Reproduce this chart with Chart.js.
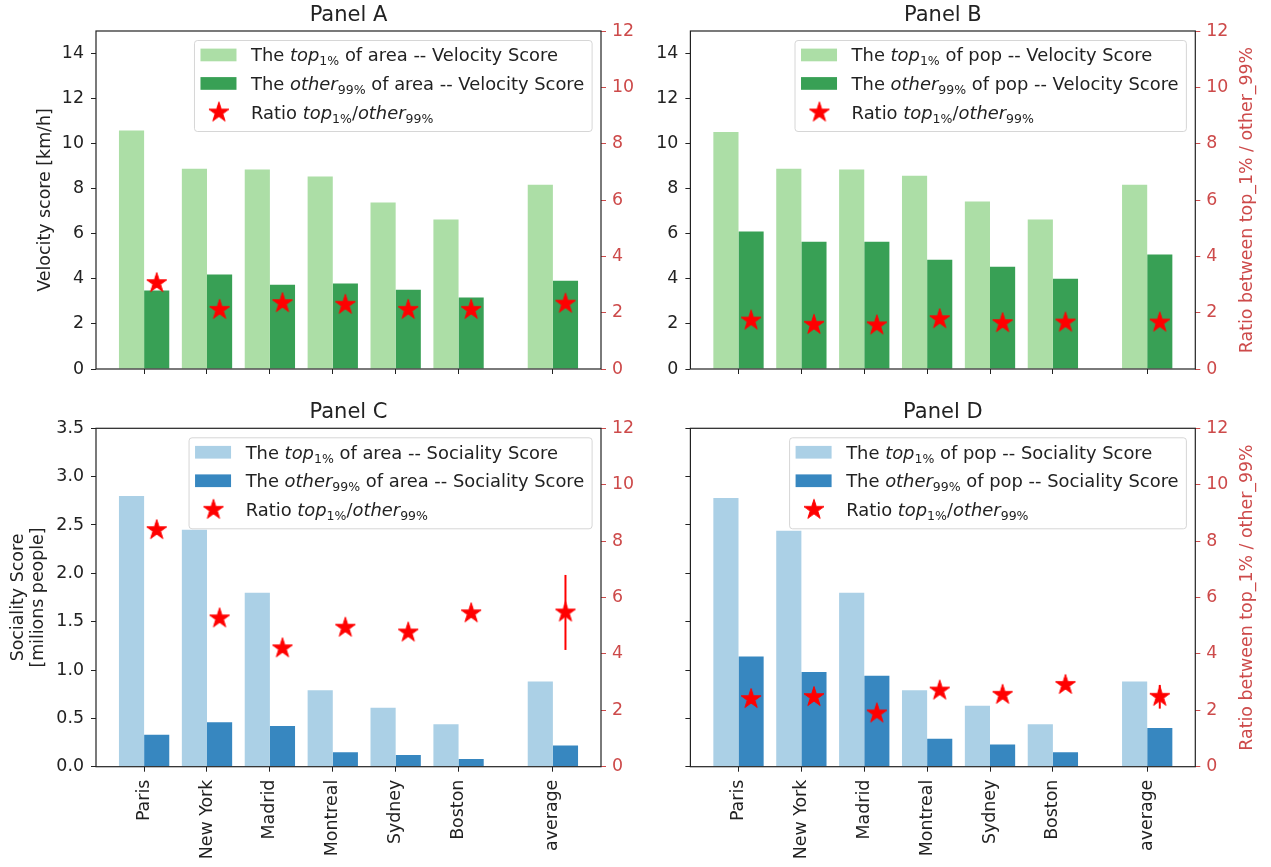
<!DOCTYPE html>
<html>
<head>
<meta charset="utf-8">
<title>Velocity and Sociality scores</title>
<script src="https://cdn.jsdelivr.net/npm/chart.js@4.4.0/dist/chart.umd.min.js"></script>
<style>
  body { margin: 0; background: #fff; width: 1271px; height: 867px; position: relative; overflow: hidden; }
  canvas { position: absolute; }
</style>
</head>
<body>
<canvas id="cA" width="650" height="400" style="left:0;top:0"></canvas>
<canvas id="cB" width="641" height="400" style="left:630px;top:0"></canvas>
<canvas id="cC" width="650" height="467" style="left:0;top:400px"></canvas>
<canvas id="cD" width="641" height="467" style="left:630px;top:400px"></canvas>
<script>
const FONT = 'DejaVu Sans';
const INK = '#222';
const RED = '#cd4a4a';
const FS = 17.4;
const LEG_FS = 17.9;

const cities = ['Paris', 'New York', 'Madrid', 'Montreal', 'Sydney', 'Boston', 'average'];
const xPos = [0, 1, 2, 3, 4, 5, 6.5];
const velTicks = [0, 2, 4, 6, 8, 10, 12, 14];
const socTicks = [0, 0.5, 1, 1.5, 2, 2.5, 3, 3.5];
const ratioTicks = [0, 2, 4, 6, 8, 10, 12];

// Panel A - velocity, area
const velTopArea = [10.58, 8.89, 8.85, 8.54, 7.39, 6.63, 8.18];
const velOtherArea = [3.48, 4.19, 3.74, 3.79, 3.52, 3.17, 3.92];
const velRatioArea = [3.05, 2.10, 2.34, 2.28, 2.10, 2.10, 2.32];
const velRatioAreaErr = [0, 0, 0, 0, 0, 0, 0.12];

// Panel B - velocity, pop
const velTopPop = [10.52, 8.89, 8.85, 8.58, 7.43, 6.63, 8.18];
const velOtherPop = [6.10, 5.65, 5.65, 4.85, 4.54, 4.01, 5.08];
const velRatioPop = [1.72, 1.57, 1.55, 1.77, 1.63, 1.65, 1.65];
const velRatioPopErr = [0, 0, 0, 0, 0, 0, 0.06];

// Panel C - sociality, area
const socTopArea = [2.80, 2.45, 1.80, 0.79, 0.61, 0.44, 0.88];
const socOtherArea = [0.33, 0.46, 0.42, 0.15, 0.12, 0.08, 0.22];
const socRatioArea = [8.39, 5.26, 4.20, 4.93, 4.76, 5.44, 5.47];
const socRatioAreaErr = [0, 0, 0, 0, 0, 0, 1.33];

// Panel D - sociality, pop
const socTopPop = [2.78, 2.44, 1.80, 0.79, 0.63, 0.44, 0.88];
const socOtherPop = [1.14, 0.98, 0.94, 0.29, 0.23, 0.15, 0.40];
const socRatioPop = [2.40, 2.47, 1.89, 2.70, 2.55, 2.90, 2.48];
const socRatioPopErr = [0, 0, 0, 0, 0, 0, 0.42];

const greens = ['#acdea6', '#38a055'];
const blues = ['#abd0e6', '#3787c0'];

function makeStar(R) {
  const c = document.createElement('canvas');
  const s = Math.ceil(2 * R + 3);
  c.width = c.height = s;
  const g = c.getContext('2d');
  g.translate(s / 2, s / 2);
  g.beginPath();
  for (let k = 0; k < 10; k++) {
    const r = k % 2 ? R * 0.381966 : R;
    const a = -Math.PI / 2 + k * Math.PI / 5;
    g.lineTo(r * Math.cos(a), r * Math.sin(a));
  }
  g.closePath();
  g.fillStyle = '#ff0000';
  g.fill();
  g.lineWidth = 1;
  g.strokeStyle = '#ff0000';
  g.stroke();
  return c;
}
const starImg = makeStar(10.5);

// text with italic words and subscripts, like matplotlib mathtext
function fontFor(k, size) {
  if (k === 'i') return `oblique ${size}px "${FONT}"`;
  if (k === 's') return `${size * 0.7}px "${FONT}"`;
  return `${size}px "${FONT}"`;
}
function richWidth(ctx, parts, size) {
  let w = 0;
  parts.forEach(([t, k]) => {
    ctx.font = fontFor(k, size);
    w += ctx.measureText(t).width;
  });
  return w;
}
function drawRich(ctx, parts, x, y, size) {
  ctx.textBaseline = 'alphabetic';
  ctx.textAlign = 'left';
  parts.forEach(([t, k]) => {
    ctx.font = fontFor(k, size);
    ctx.fillText(t, x, k === 's' ? y + size * 0.22 : y);
    x += ctx.measureText(t).width;
  });
}

const panelPlugin = {
  id: 'panel',
  afterDatasetsDraw(chart) {
    const o = chart.options.plugins.panel;
    const ctx = chart.ctx, x = chart.scales.x, y2 = chart.scales.y2;
    ctx.save();
    ctx.strokeStyle = '#ff0000';
    ctx.lineWidth = 2;
    o.err.forEach((e, i) => {
      if (!e) return;
      const px = x.getPixelForValue(xPos[i] + 0.2);
      ctx.beginPath();
      ctx.moveTo(px, y2.getPixelForValue(o.ratio[i] - e));
      ctx.lineTo(px, y2.getPixelForValue(o.ratio[i] + e));
      ctx.stroke();
    });
    ctx.restore();
  },
  afterDraw(chart) {
    const o = chart.options.plugins.panel;
    const ctx = chart.ctx, a = chart.chartArea;
    ctx.save();
    // frame
    ctx.strokeStyle = INK;
    ctx.lineWidth = 1.2;
    ctx.strokeRect(a.left, a.top, a.right - a.left, a.bottom - a.top);
    // panel title
    ctx.fillStyle = INK;
    ctx.font = `21px "${FONT}"`;
    ctx.textAlign = 'center';
    ctx.textBaseline = 'alphabetic';
    ctx.fillText(o.title, (a.left + a.right) / 2, a.top - 10);
    // right axis title, reads bottom to top
    if (o.rTitle) {
      ctx.save();
      ctx.translate(a.right + 52, (a.top + a.bottom) / 2);
      ctx.rotate(-Math.PI / 2);
      ctx.fillStyle = RED;
      ctx.font = `${FS}px "${FONT}"`;
      ctx.textAlign = 'center';
      ctx.textBaseline = 'middle';
      ctx.fillText('Ratio between top_1% / other_99%', 0, 0);
      ctx.restore();
    }
    // legend
    const rows = [
      [['The ', 'n'], ['top', 'i'], ['1%', 's'], [` of ${o.group} -- ${o.score} Score`, 'n']],
      [['The ', 'n'], ['other', 'i'], ['99%', 's'], [` of ${o.group} -- ${o.score} Score`, 'n']],
      [['Ratio ', 'n'], ['top', 'i'], ['1%', 's'], ['/', 'n'], ['other', 'i'], ['99%', 's']]
    ];
    const maxW = Math.max(...rows.map(r => richWidth(ctx, r, LEG_FS)));
    const bw = 57.1 + maxW + 7.3;
    const bx = a.right - 9.4 - bw, by = a.top + 9, bh = 91;
    ctx.globalAlpha = 0.8;
    ctx.fillStyle = '#fff';
    ctx.strokeStyle = '#cccccc';
    ctx.lineWidth = 1;
    ctx.beginPath();
    ctx.roundRect(bx + 0.5, by + 0.5, bw, bh, 3);
    ctx.fill();
    ctx.stroke();
    ctx.globalAlpha = 1;
    const rowY = [15, 43.5, 72.5];
    ctx.fillStyle = o.colors[0];
    ctx.fillRect(bx + 6.5, by + rowY[0] - 6.4, 36, 12.7);
    ctx.fillStyle = o.colors[1];
    ctx.fillRect(bx + 6.5, by + rowY[1] - 6.4, 36, 12.7);
    ctx.drawImage(starImg, bx + 24.9 - starImg.width / 2, by + rowY[2] - starImg.height / 2);
    ctx.fillStyle = INK;
    rows.forEach((r, i) => drawRich(ctx, r, bx + 57.1, by + rowY[i] + LEG_FS * 0.36, LEG_FS));
    ctx.restore();
  }
};

function makePanel(id, o) {
  const canvas = document.getElementById(id);
  const W = canvas.width, H = canvas.height;
  return new Chart(canvas, {
    type: 'bar',
    data: {
      datasets: [
        {
          type: 'line', label: 'ratio', yAxisID: 'y2', showLine: false,
          data: xPos.map((x, i) => ({ x: x + 0.2, y: o.ratio[i] })),
          pointStyle: starImg, pointRadius: 10, pointHoverRadius: 10,
          borderColor: '#ff0000', backgroundColor: '#ff0000'
        },
        {
          label: 'top', yAxisID: 'y', backgroundColor: o.colors[0],
          data: xPos.map((x, i) => ({ x, y: o.top1[i] })),
          categoryPercentage: 0.8, barPercentage: 1
        },
        {
          label: 'other', yAxisID: 'y', backgroundColor: o.colors[1],
          data: xPos.map((x, i) => ({ x, y: o.other[i] })),
          categoryPercentage: 0.8, barPercentage: 1
        }
      ]
    },
    options: {
      responsive: false,
      animation: false,
      devicePixelRatio: 1,
      layout: { padding: { top: o.plot.t, left: 0, right: 0, bottom: 0 } },
      plugins: {
        legend: { display: false },
        tooltip: { enabled: false },
        panel: o
      },
      scales: {
        x: {
          type: 'linear', min: -0.765, max: 7.265, offset: false,
          afterBuildTicks: s => { s.ticks = xPos.map(v => ({ value: v })); },
          afterFit: s => { s.height = H - o.plot.b; },
          grid: { offset: false, drawOnChartArea: false, drawTicks: true, tickLength: 5, color: INK, lineWidth: 1 },
          border: { display: false },
          ticks: {
            autoSkip: false, maxRotation: 90, minRotation: 90, padding: 8, color: INK,
            font: { family: FONT, size: FS },
            callback: v => o.showX ? cities[xPos.indexOf(v)] : ''
          }
        },
        y: {
          position: 'left', min: 0, max: o.yMax,
          afterBuildTicks: s => { s.ticks = o.yTicks.map(v => ({ value: v })); },
          afterFit: s => { s.width = o.plot.l; },
          grid: { drawOnChartArea: false, drawTicks: true, tickLength: 5, color: INK, lineWidth: 1 },
          border: { display: false },
          ticks: {
            padding: 7, color: INK, font: { family: FONT, size: FS },
            callback: v => o.showY ? (o.yMax < 5 ? v.toFixed(1) : String(v)) : ''
          },
          title: {
            display: !!o.yTitle, text: o.yTitle, color: INK,
            font: { family: FONT, size: FS, lineHeight: 1.17 },
            padding: { top: o.yTitlePad, bottom: 0 }
          }
        },
        y2: {
          position: 'right', min: 0, max: 12,
          afterBuildTicks: s => { s.ticks = ratioTicks.map(v => ({ value: v })); },
          afterFit: s => { s.width = W - o.plot.r; },
          grid: { drawOnChartArea: false, drawTicks: true, tickLength: 5, color: RED, lineWidth: 1 },
          border: { display: false },
          ticks: { padding: 6, color: RED, font: { family: FONT, size: FS } }
        }
      }
    },
    plugins: [panelPlugin]
  });
}

makePanel('cA', {
  title: 'Panel A', group: 'area', score: 'Velocity', colors: greens,
  top1: velTopArea, other: velOtherArea, ratio: velRatioArea, err: velRatioAreaErr,
  plot: { l: 96, r: 601, t: 31, b: 369 }, yMax: 15, yTicks: velTicks,
  showY: true, showX: false, yTitle: 'Velocity score [km/h]', yTitlePad: 35.5, rTitle: false
});
makePanel('cB', {
  title: 'Panel B', group: 'pop', score: 'Velocity', colors: greens,
  top1: velTopPop, other: velOtherPop, ratio: velRatioPop, err: velRatioPopErr,
  plot: { l: 60.4, r: 565.3, t: 31, b: 369 }, yMax: 15, yTicks: velTicks,
  showY: true, showX: false, yTitle: '', yTitlePad: 0, rTitle: true
});
makePanel('cC', {
  title: 'Panel C', group: 'area', score: 'Sociality', colors: blues,
  top1: socTopArea, other: socOtherArea, ratio: socRatioArea, err: socRatioAreaErr,
  plot: { l: 96, r: 601, t: 28.3, b: 366.7 }, yMax: 3.5, yTicks: socTicks,
  showY: true, showX: true, yTitle: ['Sociality Score', '[milions people]'], yTitlePad: 8.2, rTitle: false
});
makePanel('cD', {
  title: 'Panel D', group: 'pop', score: 'Sociality', colors: blues,
  top1: socTopPop, other: socOtherPop, ratio: socRatioPop, err: socRatioPopErr,
  plot: { l: 60.4, r: 565.3, t: 28.3, b: 366.7 }, yMax: 3.5, yTicks: socTicks,
  showY: false, showX: true, yTitle: '', yTitlePad: 0, rTitle: true
});
</script>
</body>
</html>
